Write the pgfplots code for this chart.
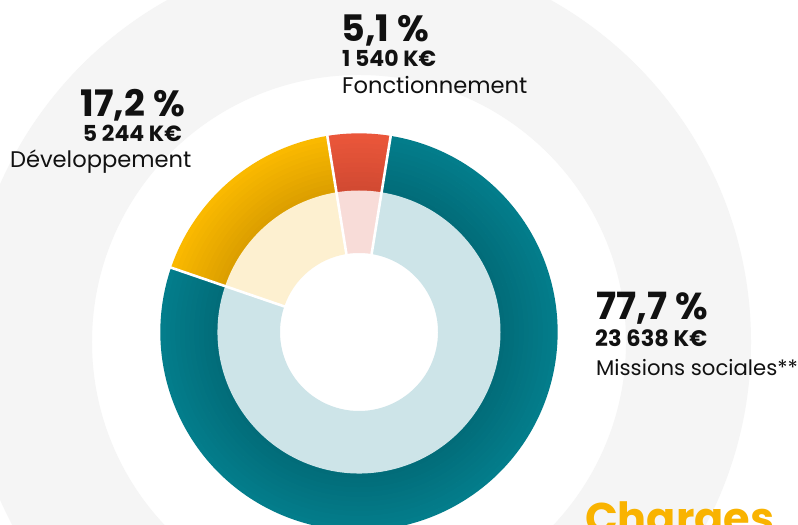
\documentclass[border=0pt]{standalone}
\usepackage{pgfplots}
\pgfplotsset{compat=1.18}
\usepackage{fontspec}
\setmainfont{Poppins}
\definecolor{tealL}{HTML}{037D8B}
\definecolor{tealD}{HTML}{026C79}
\definecolor{tealP}{HTML}{CDE4E8}
\definecolor{yelL}{HTML}{FAB900}
\definecolor{yelD}{HTML}{DC9F00}
\definecolor{yelP}{HTML}{FDF0D0}
\definecolor{redL}{HTML}{EA563A}
\definecolor{redD}{HTML}{D24A32}
\definecolor{redP}{HTML}{F8DCD8}
\definecolor{bgG}{HTML}{F5F5F5}
\definecolor{chg}{HTML}{F9B300}
\definecolor{txt}{HTML}{111111}
% shares (percent)
\def\vF{5.1}\def\vD{17.2}\def\vM{77.7}
\pgfmathsetmacro\aA{90-1.8*\vF}
\pgfmathsetmacro\aB{\aA+3.6*\vF}
\pgfmathsetmacro\aC{\aB+3.6*\vD}
\pgfmathsetmacro\aD{\aC+3.6*\vM}
\def\cx{359}\def\cy{193}
\newcommand\sector[5]{%
 \fill[#5] (axis cs:{\cx+(#4)*cos(#1)},{\cy+(#4)*sin(#1)}) arc[start angle=#1, end angle=#2, radius={(#4)*1bp}] -- (axis cs:{\cx+(#3)*cos(#2)},{\cy+(#3)*sin(#2)}) arc[start angle=#2, end angle=#1, radius={(#3)*1bp}] -- cycle;}
\newcommand\shadedsector[4]{%
 \pgfplotsforeachungrouped \k in {0,...,11}{%
  \pgfmathsetmacro\rin{141+\k*4.75}%
  \pgfmathsetmacro\rout{\rin+5.4}%
  \pgfmathtruncatemacro\pc{100*\k/11}%
  \edef\temp{\noexpand\sector{#1}{#2}{\rin}{\rout}{#3!\pc!#4}}%
  \temp}}
\begin{document}
\begin{tikzpicture}
\begin{axis}[x=1bp,y=1bp,xmin=0,xmax=798,ymin=0,ymax=525,hide axis,disabledatascaling,anchor=origin,at={(0,0)},clip=true]
\fill[white] (axis cs:0,0) rectangle (axis cs:798,525);
\fill[bgG,even odd rule] (axis cs:\cx,183) circle[radius=392bp] (axis cs:\cx,183) circle[radius=267bp];
% outer ring
\shadedsector{\aA}{\aB}{redL}{redD}
\shadedsector{\aB}{\aC}{yelL}{yelD}
\shadedsector{\aC}{\aD}{tealL}{tealD}
% inner ring
\sector{\aA}{\aB}{79}{141.5}{redP}
\sector{\aB}{\aC}{79}{141.5}{yelP}
\sector{\aC}{\aD}{79}{141.5}{tealP}
% separators
\draw[white,line width=2.6bp] (axis cs:{\cx+70*cos(\aA)},{\cy+70*sin(\aA)}) -- (axis cs:{\cx+205*cos(\aA)},{\cy+205*sin(\aA)});
\draw[white,line width=2.6bp] (axis cs:{\cx+70*cos(\aB)},{\cy+70*sin(\aB)}) -- (axis cs:{\cx+205*cos(\aB)},{\cy+205*sin(\aB)});
\draw[white,line width=2.6bp] (axis cs:{\cx+70*cos(\aC)},{\cy+70*sin(\aC)}) -- (axis cs:{\cx+205*cos(\aC)},{\cy+205*sin(\aC)});
% labels
\node[anchor=base east,inner sep=0,txt,font=\bfseries\fontsize{36.5bp}{36bp}\selectfont] at (axis cs:185,408.3) {17,2 \%};
\node[anchor=base east,inner sep=0,txt,font=\bfseries\fontsize{22bp}{22bp}\selectfont] at (axis cs:182,383.5) {5 244 K€};
\node[anchor=base east,inner sep=0,txt,font=\fontsize{22.6bp}{22bp}\selectfont] at (axis cs:191.5,357.3) {Développement};
\node[anchor=base west,inner sep=0,txt,font=\bfseries\fontsize{36.5bp}{36bp}\selectfont] at (axis cs:341.5,483.3) {5,1 \%};
\node[anchor=base west,inner sep=0,txt,font=\bfseries\fontsize{22bp}{22bp}\selectfont] at (axis cs:342,458.5) {1 540 K€};
\node[anchor=base west,inner sep=0,txt,font=\fontsize{22.6bp}{22bp}\selectfont] at (axis cs:342,431) {Fonctionnement};
\node[anchor=base west,inner sep=0,txt,font=\bfseries\fontsize{37.5bp}{36bp}\selectfont] at (axis cs:596,205.7) {77,7 \%};
\node[anchor=base west,inner sep=0,txt,font=\bfseries\fontsize{22.5bp}{22bp}\selectfont] at (axis cs:595,178) {23 638 K€};
\node[anchor=base west,inner sep=0,txt,font=\fontsize{21.2bp}{22bp}\selectfont] at (axis cs:596,149.3) {Missions sociales**};
\node[anchor=base west,inner sep=0,chg,font=\bfseries\fontsize{43bp}{44bp}\selectfont] at (axis cs:585,-9) {Charges};
\end{axis}
\end{tikzpicture}
\end{document}
